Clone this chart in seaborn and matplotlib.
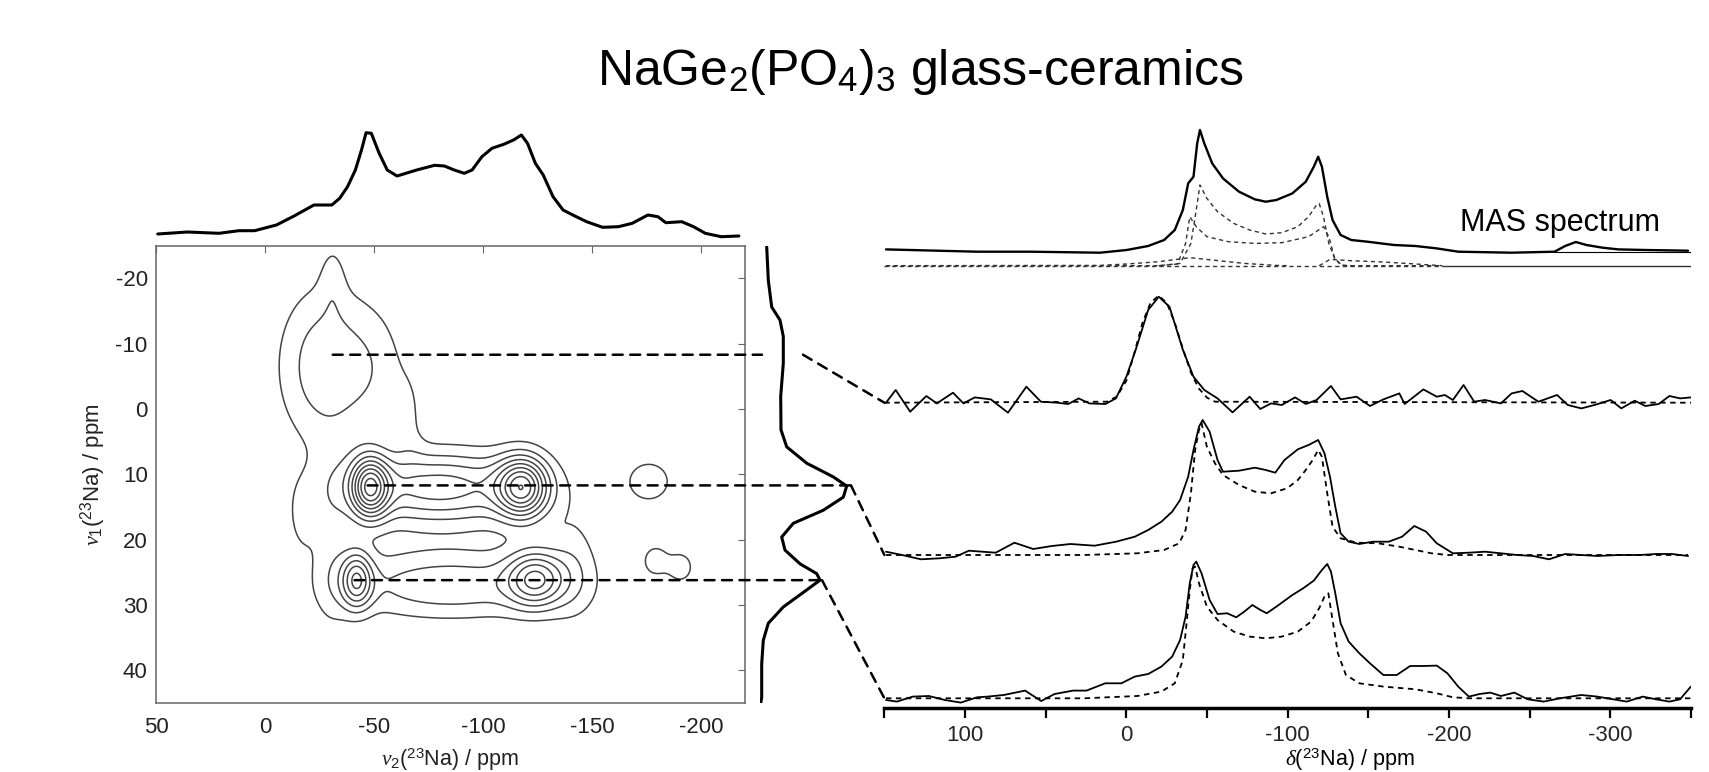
import numpy as np
import matplotlib
matplotlib.use("Agg")
import matplotlib.pyplot as plt
import seaborn as sns
from matplotlib.patches import ConnectionPatch
from matplotlib.ticker import MultipleLocator

# ---------------- data ----------------
# 2D 23Na MQMAS map, peak components
peak_nu2 = [-48, -118, -80, -42, -124, -85, -30, -142, -28, -31, -52, -17, -66, -176, -179, -190.5]
peak_nu1 = [12, 12, 12, 26.2, 26, 27, 22, 24, -6.5, -20, -6, 17, 1, 11.1, 23.2, 24.2]
peak_w2 = [6, 8, 30, 5, 9, 35, 6, 8, 15, 4, 10, 5, 5, 8, 4.5, 4.5]
peak_w1 = [3.2, 3.2, 3.8, 3, 3, 3.5, 9, 6, 8.4, 4, 7, 4, 5, 2.5, 1.8, 1.8]
peak_amp = [7, 7, 4.5, 5, 5, 2.8, 1.2, 1.3, 2.8, 0.9, 1.0, 1.1, 0.9, 1.7, 1.6, 1.6]
contour_levels = [1, 2, 3, 4, 5, 6, 7, 8, 9, 10]

# top (F2) projection
top_nu2 = [49.2, 35.6, 21.1, 12, 4.8, -5.2, -13.3, -22.4, -30.6, -34.2, -37.8, -41.4, -44.2, -46.3,
           -48.7, -52.3, -56, -60.5, -69.5, -77.7, -82.2, -86.7, -91.3, -94.9, -99.4, -104, -109.4,
           -113.9, -117.5, -120.3, -123.9, -127.5, -132, -136.6, -142, -147.4, -154.7, -162, -168.3,
           -175.5, -180.1, -183.7, -191, -196.4, -201.8, -209.1, -217.2]
top_int = [0, 2, 0.7, 3.3, 3.3, 9, 18, 29, 29, 35.7, 47.3, 64, 84, 101.3, 100.7, 80.7, 64, 58, 64,
           68.7, 68, 64, 60.7, 64, 77.3, 85.7, 89.7, 94, 99, 90.7, 70.7, 59, 37.3, 24, 18, 12.3, 6.7,
           7.3, 10.7, 19, 17.3, 11.3, 12.3, 7.3, 0.7, -2.7, -2]

# side (F1) projection
proj_nu1 = [-24.8, -19.7, -15.6, -13.6, -11.1, -7, -1.9, 3.2, 5.8, 8.3, 10.4, 11.8, 13.5, 15.5, 17.5,
            19.6, 21.6, 23.7, 25.2, 26.2, 27.7, 30.3, 32.8, 35.4, 39, 44.1, 45.1]
proj_int = [6.7, 8.3, 11.7, 20, 23.3, 23.3, 20.7, 21, 26.7, 46.7, 73.3, 86.7, 83.3, 63.3, 33.3, 21.7,
            25, 40, 56.7, 60, 46.7, 23.3, 8.3, 3.3, 1.7, 1.7, 0.7]

# MAS spectrum
mas_ppm = [149, 92.6, 59.5, 16.4, -0.2, -13.5, -23.4, -30, -35, -38.3, -41.6, -43.9, -45.6, -48.3,
           -53.2, -59.9, -69.8, -79.7, -86.4, -93, -102.9, -111.2, -116.2, -118.9, -121.2, -124.5,
           -127.8, -132.8, -139.4, -149.4, -165.9, -179.2, -192.4, -205.7, -238.8, -265.4, -272,
           -278.6, -285.2, -295.2, -305.1, -321.7, -348.2]
mas_int = [2.3, 0, 0, -1, 1.7, 5.7, 11.7, 21.7, 41.7, 68.3, 75, 108.3, 121.7, 108.3, 88.3, 73.3, 60,
           52.3, 50, 51.7, 58.3, 70, 85, 95, 85, 55, 31.7, 16.7, 11.7, 10, 6.7, 5.7, 3.3, 0, -1, 0, 5.7,
           9.7, 6.7, 4, 2.3, 1.7, 1]
# MAS fit components
comp1_ppm = [149, -20.1, -33.3, -40, -43.3, -45.6, -49.9, -56.5, -66.5, -76.4, -86.4, -96.3, -106.3,
             -112.9, -117.9, -119.5, -122.2, -125.5, -129.5, -134.4, -195.8]
comp1_int = [0, 0, 2.3, 22.3, 55.7, 80.7, 67.3, 54, 42.3, 35.7, 31.7, 33, 39, 49, 60.7, 62.3, 49, 22.3,
             5.7, 0, 0]
comp2_ppm = [-20.1, -31.7, -36.7, -39.3, -43.3, -49.9, -63.2, -79.7, -96.3, -112.9, -122.2, -125.5,
             -128.8, -132.8, -139.4]
comp2_int = [0, 1.7, 22.3, 49, 39, 29, 24, 22.3, 23, 29, 39, 29, 9, 0.7, 0]
comp3_ppm = [149, 16.4, -0.2, -20.1, -39.3, -53.2, -73.1, -93, -99.6]
comp3_int = [0, 0.3, 1.7, 4, 8, 5.7, 2.3, 0.3, 0]
comp4_ppm = [-119.5, -126.2, -139.4, -159.3, -179.2, -195.8]
comp4_int = [0, 6.3, 5, 3.7, 1.7, 0]

# slice at nu1 = -8 ppm
s1_ppm = [149, 143, 134, 124, 117.5, 107.5, 101, 94, 84, 73.4, 62, 53, 43, 36, 29.6, 23, 13, 6.5, 0,
          -5.8, -13.5, -20.1, -26.7, -35, -41.6, -48.3, -56.5, -65.8, -76.4, -83, -89.7, -96.3,
          -104.6, -111.2, -117.9, -126.8, -132.8, -142.7, -151, -159.3, -169.2, -172.5, -184.1,
          -192.4, -197.4, -202.4, -209, -215.6, -222.3, -232.2, -238.8, -245.5, -255.4, -267, -273.6,
          -282, -290.2, -300.2, -306.8, -315.1, -321.7, -330, -336.6, -343.3, -349.9]
s1_int = [0, 12.7, -9, 6.7, -0.7, 10, -0.7, 5.3, 3.3, -10, 16, 1, 0, -1.3, 4.3, -0.7, -1.3, 4.3, 26,
          53, 92.7, 106, 96, 53, 26, 12.7, 4.3, -9.7, 6, -6.3, -0.7, -2.3, 5.3, -1.3, 2.7, 16.7, 3.3,
          6, -3.3, 3.3, 9.3, -1.3, 13.3, 6, 7.7, 2.7, 17.7, 1, 2.7, -0.7, 9.3, 11.7, 1, 7.7, -2.3,
          -5.7, -2.3, 2.7, -5.7, 2, -3.3, -1.3, 6.7, 4.3, 5.3]
f1_ppm = [150, 12, 6, 0, -5, -10, -15, -20, -25, -30, -35, -40, -45, -50, -55, -350]
f1_int = [0, 1, 6, 22, 50, 80, 100, 107, 100, 80, 54, 30, 14, 5, 1, 0]

# slice at nu1 = 12 ppm
s2_ppm = [149, 139, 127.4, 115.8, 105.9, 97.6, 89.3, 81, 69.4, 57.8, 46.2, 34.6, 19.7, 6.4, -5.2,
          -13.5, -21.7, -28.4, -33.3, -38.3, -41.6, -45, -47.3, -51.6, -56.5, -59.9, -69.8, -79.7,
          -86.4, -92.3, -98, -106.3, -112.9, -118.9, -122.8, -126.2, -129.5, -132.8, -137.8, -144.4,
          -152.7, -162.6, -170.9, -178.5, -185.8, -192.4, -202.4, -212.3, -222.3, -232.2, -242.2,
          -252.1, -262, -272, -281.9, -291.9, -305.1, -318.4, -328.3, -338.3, -348.2]
s2_int = [3.3, 0, -4.3, -3.3, -1.7, 4.3, 3.3, 2.3, 12.3, 6, 9, 11, 9.3, 13.3, 18.3, 25, 33.3, 43.3,
          55, 78.3, 105, 128.3, 135, 123.3, 95, 83.3, 84.3, 87.3, 85, 82.3, 95, 105.7, 110, 115,
          101.7, 78.3, 48.3, 21.7, 13.3, 11, 13.3, 13.3, 18.3, 29, 23.3, 11.7, 1.7, 2.3, 3.3, 1.7, 0,
          -1, -4.3, 1, 0, -1, 0, 0, 1, 1, -1]
f2_ppm = [149, 26.3, -6.8, -23.4, -32.7, -36.7, -40, -42.6, -45, -46.6, -49.9, -54.9, -59.9, -69.8,
          -79.7, -89.7, -99.6, -106.3, -111.2, -115.5, -118.9, -121.2, -124.5, -127.8, -132.8,
          -142.7, -156, -169.2, -179.2, -189.1, -199, -348.2]
f2_int = [0, 0, 1.7, 5, 11.7, 25, 61.7, 105, 125, 131.7, 108.3, 91.7, 80, 70, 63.3, 61.7, 66.7, 75,
          85, 95, 105, 98.3, 61.7, 28.3, 16.7, 12.3, 11.7, 8.3, 5, 1.7, 0, 0]

# slice at nu1 = 26 ppm
s3_ppm = [149, 142.3, 132.4, 122.4, 112.5, 102.6, 92.6, 86, 76, 62.8, 52.8, 44.5, 33, 24.7, 13.1,
          3.1, -5.2, -13.5, -21.7, -28.4, -33.3, -36.7, -39.3, -41.6, -43.3, -46.6, -51.6, -56.5,
          -62.5, -68.1, -73.1, -78.1, -83.1, -87, -93, -102.9, -109.6, -116.2, -121.2, -124.5,
          -126.8, -129.5, -132.8, -137.8, -144.4, -151, -159.3, -167.6, -175.9, -184.2, -192.4,
          -199, -205.7, -212.3, -219, -225.6, -232.2, -240.5, -248.8, -258.7, -268.7, -281.9,
          -291.9, -301.8, -310.1, -320.1, -328.3, -336.6, -343.2, -349.9]
s3_int = [-1.7, -3.3, 1.7, 2.3, -1.7, -4.3, 1, 1.7, 3.3, 7.7, -2.7, 4.3, 7.7, 7.7, 15, 15, 21.7, 24.3,
          31.7, 41.7, 58.3, 81.7, 115, 133.3, 136.7, 125, 98.3, 84.3, 85, 81, 86.7, 93.3, 88.3, 85,
          91.7, 103.3, 110, 117.7, 128.3, 134.3, 126.7, 105, 75, 56.7, 45, 35, 23.3, 23.3, 32.3,
          32.3, 32.7, 25, 11.7, 1.7, 4.3, 5.7, 2.3, 5.7, -1, -3.3, 0, 3.3, 1.7, -1, -3.3, 1.7, -1,
          -3.3, -1, 11.7]
f3_ppm = [149, 26.3, -6.8, -21.7, -30, -35, -37.3, -39.3, -41, -42.6, -45, -49.9, -56.5, -66.5,
          -76.4, -86.4, -96.3, -106.3, -114.5, -119.5, -122.8, -125.2, -127.8, -131.1, -136.1,
          -144.4, -159.3, -179.2, -192.4, -202.4, -212.3, -349.9]
f3_int = [0, 0, 2.3, 6.7, 15, 38.3, 75, 108.3, 130, 131.7, 115, 91.7, 78.3, 66.7, 61.7, 60, 61.7,
          66.7, 76.7, 90, 101.7, 105, 78.3, 45, 23.3, 15, 11.7, 9, 5, 1, 0, 0]

# vertical offsets of the stacked spectra (right panel units)
mas_offset = 456.3
comp_offset = 442.3
slice_offsets = [305.3, 153, 9.7]

# slice positions in the 2D map and connector geometry
slice_nu1 = [-8.3, 11.7, 26.2]
slice_start_nu2 = [-31, -47, -41]
slice_hline_end = [2, 91, 62]
slice_diag_start = [43, 91, 62]

# ---------------- style ----------------
sns.set_theme(style="white")
plt.rcParams["font.family"] = ["Liberation Sans", "DejaVu Sans"]
plt.rcParams["axes.unicode_minus"] = False
plt.rcParams["mathtext.fontset"] = "custom"
plt.rcParams["mathtext.rm"] = "Liberation Sans"
plt.rcParams["mathtext.it"] = "Liberation Serif:italic"
plt.rcParams["mathtext.bf"] = "Liberation Sans:bold"

W, H = 1709, 772
fig = plt.figure(figsize=(W / 100, H / 100), dpi=100)
fig.patch.set_facecolor("white")


def frac(x0, y_top, x1, y_bot):
    return [x0 / W, 1 - y_bot / H, (x1 - x0) / W, (y_bot - y_top) / H]


# ---------------- 2D contour ----------------
ax2d = fig.add_axes(frac(156, 245.6, 745, 703))
g2 = np.linspace(50, -220, 400)
g1 = np.linspace(-25, 45, 300)
G2, G1 = np.meshgrid(g2, g1)
Z = np.zeros_like(G2)
for c2, c1, w2, w1, a in zip(peak_nu2, peak_nu1, peak_w2, peak_w1, peak_amp):
    Z += a * np.exp(-((G2 - c2) ** 2) / (2 * w2 ** 2) - ((G1 - c1) ** 2) / (2 * w1 ** 2))
ax2d.contour(G2, G1, Z, levels=contour_levels, colors="#444444", linewidths=1.1)
ax2d.set_xlim(50, -220)
ax2d.set_ylim(45, -25)
ax2d.xaxis.set_major_locator(MultipleLocator(50))
ax2d.yaxis.set_major_locator(MultipleLocator(10))
ax2d.tick_params(direction="in", length=5, width=0.8, color="#666666", top=True, right=True,
                 labelsize=16, labelcolor="#222222")
ax2d.tick_params(axis="x", pad=10)
ax2d.tick_params(axis="y", pad=6)
for sp in ax2d.spines.values():
    sp.set_color("#666666")
    sp.set_linewidth(1.1)
ax2d.grid(False)

# ---------------- top projection ----------------
axT = fig.add_axes(frac(156, 124, 745, 239))
sns.lineplot(x=top_nu2, y=top_int, ax=axT, color="black", linewidth=2.2, sort=False, estimator=None)
axT.set_xlim(50, -220)
axT.set_ylim(-5, 110)
axT.axis("off")

# ---------------- side projection ----------------
axP = fig.add_axes(frac(760, 245.6, 860, 703))
sns.lineplot(x=proj_int, y=proj_nu1, ax=axP, color="black", linewidth=2.2, sort=False, estimator=None)
axP.set_xlim(0, 100)
axP.set_ylim(45, -25)
axP.axis("off")

# ---------------- stacked 1D spectra ----------------
axR = fig.add_axes(frac(884.4, 120, 1691, 708))
axR.set_xlim(150, -350)
axR.set_ylim(0, 588)
fit_ls = (0, (3, 2.5))

sns.lineplot(x=mas_ppm, y=np.array(mas_int) + mas_offset, ax=axR, color="black", linewidth=1.7,
             sort=False, estimator=None)
axR.plot([-265, -350], [mas_offset, mas_offset], color="black", linewidth=0.8)
for cp, ci in [(comp1_ppm, comp1_int), (comp2_ppm, comp2_int), (comp3_ppm, comp3_int),
               (comp4_ppm, comp4_int)]:
    sns.lineplot(x=cp, y=np.array(ci) + comp_offset, ax=axR, color="#333333", linewidth=1.0,
                 linestyle=fit_ls, sort=False, estimator=None)
axR.plot([150, -196], [comp_offset, comp_offset], color="#333333", linewidth=1.0, linestyle=fit_ls)
axR.plot([-196, -350], [comp_offset, comp_offset], color="#333333", linewidth=1.0)
axR.text(-207, mas_offset + 21, "MAS spectrum", fontsize=22, ha="left", va="baseline", color="black")

for (sp, si, fp, fi), off in zip([(s1_ppm, s1_int, f1_ppm, f1_int),
                                  (s2_ppm, s2_int, f2_ppm, f2_int),
                                  (s3_ppm, s3_int, f3_ppm, f3_int)], slice_offsets):
    sns.lineplot(x=fp, y=np.array(fi) + off, ax=axR, color="black", linewidth=1.3,
                 linestyle=fit_ls, sort=False, estimator=None)
    sns.lineplot(x=sp, y=np.array(si) + off, ax=axR, color="black", linewidth=1.3,
                 sort=False, estimator=None)

for name in ["top", "left", "right"]:
    axR.spines[name].set_visible(False)
axR.spines["bottom"].set_linewidth(2.5)
axR.spines["bottom"].set_color("black")
axR.set_yticks([])
axR.xaxis.set_major_locator(MultipleLocator(100))
axR.xaxis.set_minor_locator(MultipleLocator(50))
axR.tick_params(axis="x", which="both", direction="out", length=7, width=1.6, color="black",
                bottom=True, labelsize=16, pad=5)
axR.grid(False)

# ---------------- connectors ----------------
con_ls = (0, (4, 3))
for n1, x0, xe, xd, off in zip(slice_nu1, slice_start_nu2, slice_hline_end, slice_diag_start,
                               slice_offsets):
    c1 = ConnectionPatch(xyA=(x0, n1), coordsA=ax2d.transData, xyB=(xe, n1), coordsB=axP.transData,
                         color="black", linewidth=1.8, linestyle=con_ls)
    fig.add_artist(c1)
    c2 = ConnectionPatch(xyA=(xd, n1), coordsA=axP.transData, xyB=(150, off), coordsB=axR.transData,
                         color="black", linewidth=1.8, linestyle=con_ls)
    fig.add_artist(c2)

# ---------------- texts ----------------
fig.text(920 / W, 1 - 85 / H, r"NaGe$_2$(PO$_4$)$_3$ glass-ceramics", fontsize=36, ha="center",
         va="baseline", color="black")
fig.text(93 / W, 1 - 474.3 / H, r"$\nu_1$($^{23}$Na) / ppm", fontsize=16, rotation=90, ha="center",
         va="center", color="#222222")
fig.text(450 / W, 1 - 766 / H, r"$\nu_2$($^{23}$Na) / ppm", fontsize=15.5, ha="center", va="baseline",
         color="#222222")
fig.text(1350 / W, 1 - 766 / H, r"$\delta$($^{23}$Na) / ppm", fontsize=15.5, ha="center",
         va="baseline", color="black")

fig.savefig("out.png", dpi=100)
